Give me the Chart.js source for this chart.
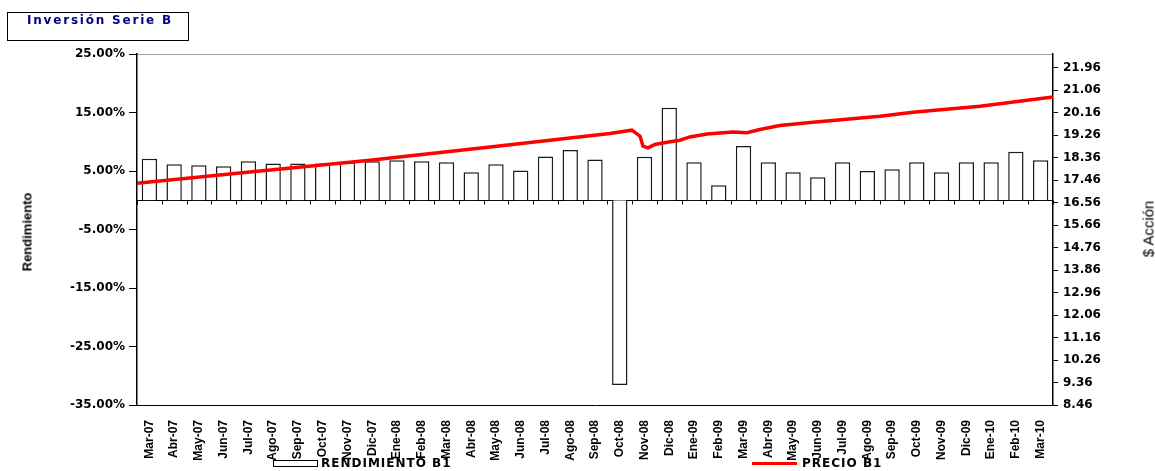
<!DOCTYPE html>
<html>
<head>
<meta charset="utf-8">
<script src="https://cdn.jsdelivr.net/npm/chart.js@4.4.0/dist/chart.umd.min.js"></script>
<style>
  html, body { margin: 0; padding: 0; background: #fff; }
  #wrap { position: relative; width: 1155px; height: 471px; overflow: hidden; }
  canvas { position: absolute; left: 0; top: 0; }
  .abs { position: absolute; white-space: nowrap; }
  #titlebox { left: 7px; top: 12px; width: 182px; height: 29px; border: 1px solid #000; box-sizing: border-box; }
  #titletext { left: 27px; top: 13px; font: bold 12px "DejaVu Sans"; letter-spacing: 1.8px; color: #000080; }
  .axtitle { font-family: "Liberation Sans", Arial, sans-serif; color: #000; transform-origin: center center; }
  #ytitle { left: 27px; top: 232px; font-weight: bold; font-size: 13px; transform: translate(-50%, -50%) rotate(-90deg); }
  #y2title { left: 1148px; top: 229px; font-size: 15px; transform: translate(-50%, -50%) rotate(-90deg); }
  .legtext { font: bold 12px "DejaVu Sans"; letter-spacing: 1px; color: #000; top: 456px; }
  #legbox { left: 273px; top: 460px; width: 45px; height: 7px; border: 1px solid #000; box-sizing: border-box; background: #fff; }
  #legline { left: 752px; top: 462px; width: 45px; height: 3px; background: #ff0000; }
</style>
</head>
<body>
<div id="wrap">
  <canvas id="c" width="1155" height="471"></canvas>
  <div class="abs" id="titlebox"></div>
  <div class="abs" id="titletext">Inversión Serie B</div>
  <div class="abs axtitle" id="ytitle">Rendimiento</div>
  <div class="abs axtitle" id="y2title">$ Acción</div>
  <div class="abs" id="legbox"></div>
  <div class="abs legtext" style="left:321px">RENDIMIENTO B1</div>
  <div class="abs" id="legline"></div>
  <div class="abs legtext" style="left:802px">PRECIO B1</div>
</div>
<script>
const categories = ['Mar-07','Abr-07','May-07','Jun-07','Jul-07','Ago-07','Sep-07','Oct-07','Nov-07','Dic-07',
  'Ene-08','Feb-08','Mar-08','Abr-08','May-08','Jun-08','Jul-08','Ago-08','Sep-08','Oct-08','Nov-08','Dic-08',
  'Ene-09','Feb-09','Mar-09','Abr-09','May-09','Jun-09','Jul-09','Ago-09','Sep-09','Oct-09','Nov-09','Dic-09',
  'Ene-10','Feb-10','Mar-10'];

const rendimientoB1 = [7.1, 6.15, 5.98, 5.8, 6.66, 6.3, 6.3, 6.3, 6.5, 6.66,
  6.84, 6.66, 6.5, 4.8, 6.15, 5.1, 7.5, 8.6, 6.95, -31.6, 7.45, 15.8,
  6.5, 2.56, 9.28, 6.5, 4.78, 3.93, 6.5, 5.0, 5.3, 6.5, 4.78, 6.5,
  6.5, 8.3, 6.84];

// price series: position along the month axis (0 = start of Mar-07, 37 = end of Mar-10) and price
const precioPos = [0, 4.56, 9.41, 14.26, 19.10, 19.99, 20.32, 20.44, 20.64, 20.92, 21.41, 21.93,
  22.33, 23.02, 24.07, 24.64, 25.16, 25.97, 27.30, 30.01, 31.34, 34.05, 37];
const precioB1 = [17.34, 17.79, 18.26, 18.79, 19.33, 19.46, 19.22, 18.82, 18.75, 18.89, 18.98, 19.06,
  19.19, 19.31, 19.39, 19.36, 19.49, 19.65, 19.78, 20.02, 20.18, 20.42, 20.79];

const leftTicks = [-35, -25, -15, -5, 5, 15, 25];
const rightTicks = [8.46, 9.36, 10.26, 11.16, 12.06, 12.96, 13.86, 14.76, 15.66, 16.56,
  17.46, 18.36, 19.26, 20.16, 21.06, 21.96];
const leftRange = [-35, 25];
const rightRange = [8.46, 22.51];

const zeroLine = {
  id: 'zeroLine',
  beforeDatasetsDraw(chart) {
    const ctx = chart.ctx, x = chart.scales.x, y = chart.scales.y;
    const y0 = Math.round(y.getPixelForValue(0)) + 0.5;
    ctx.save();
    ctx.strokeStyle = '#000';
    ctx.lineWidth = 1;
    ctx.beginPath();
    ctx.moveTo(x.left, y0); ctx.lineTo(x.right, y0);
    const n = categories.length;
    for (let i = 0; i <= n; i++) {
      const px = Math.round(x.left + i * (x.width / n)) + 0.5;
      ctx.moveTo(px, y0); ctx.lineTo(px, y0 + 4);
    }
    ctx.stroke();
    ctx.restore();
  }
};

new Chart(document.getElementById('c'), {
  type: 'bar',
  data: {
    labels: categories,
    datasets: [
      {
        type: 'line',
        label: 'PRECIO B1',
        data: precioPos.map((p, i) => ({ x: p, y: precioB1[i] })),
        xAxisID: 'xl',
        yAxisID: 'y2',
        borderColor: '#ff0000',
        borderWidth: 3.5,
        pointRadius: 0,
        tension: 0,
        order: 0
      },
      {
        type: 'bar',
        label: 'RENDIMIENTO B1',
        data: rendimientoB1,
        xAxisID: 'x',
        yAxisID: 'y',
        backgroundColor: '#ffffff',
        borderColor: '#1a1a1a',
        borderWidth: 1.5,
        grouped: false,
        barPercentage: 0.62,
        categoryPercentage: 1,
        order: 1
      }
    ]
  },
  options: {
    responsive: false,
    animation: false,
    devicePixelRatio: 1,
    layout: { padding: { top: 54, left: 0, right: 0, bottom: 0 } },
    plugins: { legend: { display: false }, tooltip: { enabled: false } },
    scales: {
      x: {
        type: 'category',
        position: 'bottom',
        offset: true,
        grid: { display: false },
        border: { display: true, color: '#000', width: 1 },
        ticks: {
          autoSkip: false, maxRotation: 90, minRotation: 90, padding: 7, color: '#000',
          font: { family: '"Liberation Sans", Arial, sans-serif', size: 12, weight: 'bold' }
        },
        afterFit(s) { s.height = 66; }
      },
      xl: {
        type: 'linear',
        display: false,
        offset: false,
        grid: { offset: false },
        min: 0,
        max: categories.length
      },
      y: {
        type: 'linear',
        position: 'left',
        min: leftRange[0],
        max: leftRange[1],
        afterBuildTicks(s) { s.ticks = leftTicks.map(v => ({ value: v })); },
        grid: {
          drawOnChartArea: true,
          color: c => (c.tick && c.tick.value === leftRange[1]) ? '#a0a0a0' : 'rgba(0,0,0,0)',
          tickColor: '#000',
          tickLength: 8
        },
        border: { display: true, color: '#000', width: 1.5 },
        ticks: {
          padding: 4, color: '#000',
          font: { family: 'DejaVu Sans', size: 12, weight: 'bold' },
          callback: v => Number(v).toFixed(2) + '%'
        },
        afterFit(s) { s.width = 137; }
      },
      y2: {
        type: 'linear',
        position: 'right',
        min: rightRange[0],
        max: rightRange[1],
        afterBuildTicks(s) { s.ticks = rightTicks.map(v => ({ value: v })); },
        grid: { drawOnChartArea: false, tickColor: '#000', tickLength: 5 },
        border: { display: true, color: '#000', width: 1.5 },
        ticks: {
          padding: 5, color: '#000',
          font: { family: 'DejaVu Sans', size: 12, weight: 'bold' },
          callback: v => Number(v).toFixed(2)
        },
        afterFit(s) { s.width = 102; }
      }
    }
  },
  plugins: [zeroLine]
});
</script>
</body>
</html>
